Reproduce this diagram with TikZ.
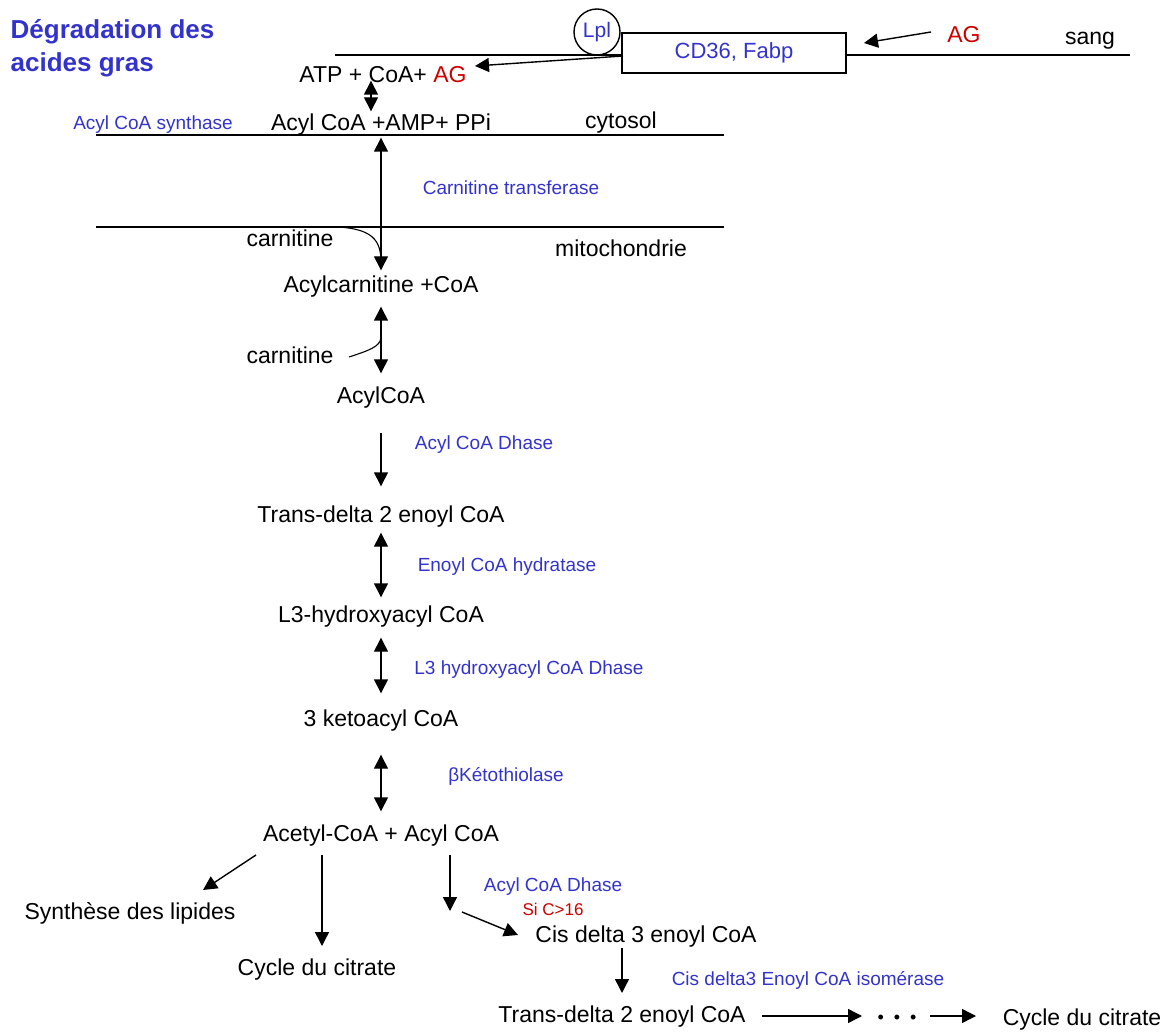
\documentclass[tikz,border=0pt]{standalone}
\usepackage{fontspec}
\setmainfont{Liberation Sans}
\usetikzlibrary{arrows.meta}
\definecolor{enzblue}{RGB}{51,51,204}
\definecolor{agred}{RGB}{204,0,0}

\begin{document}
\begin{tikzpicture}[
  x=1pt, y=-1pt,
  line width=1.4pt,
  mol/.style={inner sep=0pt, text height=18pt, text depth=4pt, font=\fontsize{23}{26}\selectfont},
  enz/.style={inner sep=0pt, text=enzblue, font=\fontsize{19}{22}\selectfont},
  title/.style={inner sep=0pt, anchor=west, text=enzblue, font=\fontsize{26}{30}\selectfont\bfseries},
  arr/.style={-{Triangle[length=14pt,width=14pt]}},
  dbl/.style={{Triangle[length=14pt,width=14pt]}-{Triangle[length=14pt,width=14pt]}},
  carnline/.style={line width=1.1pt},
]
\useasboundingbox (0,0) rectangle (1176,1032);

% --- Title ---
\node[title] (title1) at (10,32) {Dégradation des};
\node[title] (title2) at (10,65) {acides gras};

% --- Membranes: blood / cytosol / mitochondria ---
\draw (335,55) -- (622,55);
\draw (846,55) -- (1130,55);
\draw (96,135) -- (724,135);
\draw (96,227) -- (724,227);

% --- Entry of the fatty acid ---
\node[circle, draw, minimum size=46pt, inner sep=0pt, text=enzblue, font=\fontsize{21}{24}\selectfont] (lpl) at (597,32) {Lpl};
\node[draw, minimum width=224pt, minimum height=40pt, inner sep=0pt, text=enzblue, font=\fontsize{22}{25}\selectfont] (cd) at (734,53) {CD36, Fabp};
\node[mol, text=agred] (agout) at (964,36) {AG};
\node[mol] (sang) at (1090,38) {sang};

\node[mol] (atp) at (383,76) {ATP + CoA+ \textcolor{agred}{AG}};
\node[enz] (acs) at (153,125) {Acyl CoA synthase};
\node[mol] (acylamp) at (381,124) {Acyl CoA +AMP+ PPi};
\node[mol] (cytosol) at (621,122) {cytosol};

% --- Carnitine shuttle ---
\node[enz] (cat) at (511,188) {Carnitine transferase};
\node[mol] (carn1) at (290,240) {carnitine};
\node[mol] (mito) at (621,250) {mitochondrie};
\node[mol] (acylcarn) at (381,286) {Acylcarnitine +CoA};
\node[mol] (carn2) at (290,356) {carnitine};
\node[mol] (acylcoa) at (381,396) {AcylCoA};

% --- Beta oxidation ---
\node[enz] (acd1) at (484,445) {Acyl CoA Dhase};
\node[mol] (trans1) at (381,515) {Trans-delta 2 enoyl CoA};
\node[enz] (ech) at (507,567) {Enoyl CoA hydratase};
\node[mol] (hydroxy) at (381,615) {L3-hydroxyacyl CoA};
\node[enz] (hadh) at (529,670) {L3 hydroxyacyl CoA Dhase};
\node[mol] (keto) at (381,719) {3 ketoacyl CoA};
\node[enz] (thiol) at (506,776) {βKétothiolase};
\node[mol] (acetyl) at (381,834) {Acetyl-CoA + Acyl CoA};

% --- Fates of the products ---
\node[mol] (synth) at (130,912) {Synthèse des lipides};
\node[mol] (cycle1) at (317,968) {Cycle du citrate};
\node[enz] (acd2) at (553,887) {Acyl CoA Dhase};
\node[enz, text=agred, font=\fontsize{17}{20}\selectfont] (sic) at (553,909) {Si C>16};
\node[mol] (cisd3) at (646,935) {Cis delta 3 enoyl CoA};
\node[enz] (iso) at (808,980) {Cis delta3 Enoyl CoA isomérase};
\node[mol] (trans2) at (622,1015) {Trans-delta 2 enoyl CoA};
\node[inner sep=0pt, font=\fontsize{18}{20}\selectfont] (dots) at (897,1019) {•\hspace{10pt}•\hspace{10pt}•};
\node[mol] (cycle2) at (1082,1018) {Cycle du citrate};

% Arrows of the top part
\draw[arr] ([xshift=-33pt,yshift=4pt]agout.center) -- ([xshift=130pt,yshift=10pt]cd.center);
\draw[arr] ([xshift=-111pt,yshift=-3pt]cd.center) -- ([xshift=92pt,yshift=10pt]atp.center);
\draw[dbl] ([xshift=-12pt,yshift=7pt]atp.south) -- ([xshift=-10pt,yshift=1pt]acylamp.north);

% Main chain of reversible steps
\foreach \a/\b/\s/\e in {acylamp/acylcarn/2pt/4pt, acylcarn/acylcoa/9pt/11pt,
    trans1/hydroxy/6pt/6pt, hydroxy/keto/11pt/14pt, keto/acetyl/24pt/11pt}
  \draw[dbl, shorten <=\s, shorten >=\e] (\a) -- (\b);
\draw[arr, shorten <=25pt, shorten >=17pt] (acylcoa) -- (trans1);

% Carnitine joining the arrows
\draw[carnline] ([xshift=48pt,yshift=13pt]carn1.center) .. controls +(34,2) and +(0,-22) .. ([yshift=24pt]acylcarn.center);
\draw[carnline] ([xshift=59pt,yshift=-1pt]carn2.center) .. controls +(18,-6) and +(0,10) .. ([yshift=-51pt]acylcarn.center);

% Bottom branches
\coordinate (split) at (450,911);
\draw[arr] ([xshift=-125pt,yshift=-21pt]acetyl.center) -- ([xshift=73pt,yshift=22pt]synth.center);
\draw[arr] ([xshift=-59pt,yshift=-21pt]acetyl.center) -- ([xshift=5pt,yshift=22pt]cycle1.center);
\draw[arr] ([xshift=69pt,yshift=-21pt]acetyl.center) -- (split);
\draw[arr] ([xshift=12pt,yshift=-1pt]split) -- ([xshift=-128pt]cisd3.center);
\draw[arr] ([xshift=-24pt,yshift=-13pt]cisd3.center) -- ([yshift=22pt]trans2.center);
\draw[arr] ([xshift=140pt,yshift=-1pt]trans2.center) -- ([xshift=-35pt,yshift=3pt]dots.center);
\draw[arr] ([xshift=33pt,yshift=3pt]dots.center) -- ([xshift=-106pt,yshift=2pt]cycle2.center);

\end{tikzpicture}
\end{document}
